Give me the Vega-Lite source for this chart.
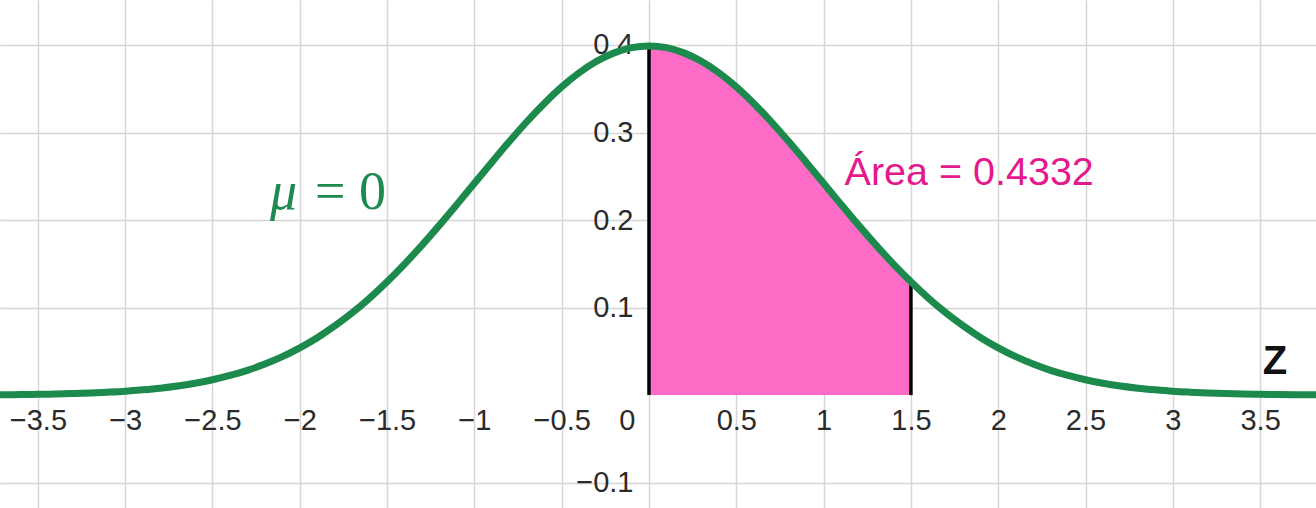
{
  "$schema": "https://vega.github.io/schema/vega-lite/v6.json",
  "width": 1316,
  "height": 508,
  "padding": 0,
  "autosize": {"type": "fit", "contains": "padding"},
  "background": "white",
  "view": {"stroke": null},
  "datasets": {
    "curve": [
      {"z": -3.9, "p": 0.0002}, {"z": -3.8, "p": 0.0003}, {"z": -3.7, "p": 0.0004}, {"z": -3.6, "p": 0.0006},
      {"z": -3.5, "p": 0.0009}, {"z": -3.4, "p": 0.0012}, {"z": -3.3, "p": 0.0017}, {"z": -3.2, "p": 0.0024},
      {"z": -3.1, "p": 0.0033}, {"z": -3.0, "p": 0.0044}, {"z": -2.9, "p": 0.0060}, {"z": -2.8, "p": 0.0079},
      {"z": -2.7, "p": 0.0104}, {"z": -2.6, "p": 0.0136}, {"z": -2.5, "p": 0.0175}, {"z": -2.4, "p": 0.0224},
      {"z": -2.3, "p": 0.0283}, {"z": -2.2, "p": 0.0355}, {"z": -2.1, "p": 0.0440}, {"z": -2.0, "p": 0.0540},
      {"z": -1.9, "p": 0.0656}, {"z": -1.8, "p": 0.0790}, {"z": -1.7, "p": 0.0940}, {"z": -1.6, "p": 0.1109},
      {"z": -1.5, "p": 0.1295}, {"z": -1.4, "p": 0.1497}, {"z": -1.3, "p": 0.1714}, {"z": -1.2, "p": 0.1942},
      {"z": -1.1, "p": 0.2179}, {"z": -1.0, "p": 0.2420}, {"z": -0.9, "p": 0.2661}, {"z": -0.8, "p": 0.2897},
      {"z": -0.7, "p": 0.3123}, {"z": -0.6, "p": 0.3332}, {"z": -0.5, "p": 0.3521}, {"z": -0.4, "p": 0.3683},
      {"z": -0.3, "p": 0.3814}, {"z": -0.2, "p": 0.3910}, {"z": -0.1, "p": 0.3970}, {"z": 0.0, "p": 0.3989},
      {"z": 0.1, "p": 0.3970}, {"z": 0.2, "p": 0.3910}, {"z": 0.3, "p": 0.3814}, {"z": 0.4, "p": 0.3683},
      {"z": 0.5, "p": 0.3521}, {"z": 0.6, "p": 0.3332}, {"z": 0.7, "p": 0.3123}, {"z": 0.8, "p": 0.2897},
      {"z": 0.9, "p": 0.2661}, {"z": 1.0, "p": 0.2420}, {"z": 1.1, "p": 0.2179}, {"z": 1.2, "p": 0.1942},
      {"z": 1.3, "p": 0.1714}, {"z": 1.4, "p": 0.1497}, {"z": 1.5, "p": 0.1295}, {"z": 1.6, "p": 0.1109},
      {"z": 1.7, "p": 0.0940}, {"z": 1.8, "p": 0.0790}, {"z": 1.9, "p": 0.0656}, {"z": 2.0, "p": 0.0540},
      {"z": 2.1, "p": 0.0440}, {"z": 2.2, "p": 0.0355}, {"z": 2.3, "p": 0.0283}, {"z": 2.4, "p": 0.0224},
      {"z": 2.5, "p": 0.0175}, {"z": 2.6, "p": 0.0136}, {"z": 2.7, "p": 0.0104}, {"z": 2.8, "p": 0.0079},
      {"z": 2.9, "p": 0.0060}, {"z": 3.0, "p": 0.0044}, {"z": 3.1, "p": 0.0033}, {"z": 3.2, "p": 0.0024},
      {"z": 3.3, "p": 0.0017}, {"z": 3.4, "p": 0.0012}, {"z": 3.5, "p": 0.0009}, {"z": 3.6, "p": 0.0006},
      {"z": 3.7, "p": 0.0004}, {"z": 3.8, "p": 0.0003}, {"z": 3.9, "p": 0.0002}
    ],
    "bounds": [{"z": 0, "p": 0.3989}, {"z": 1.5, "p": 0.1295}],
    "labels": [
      {"z": 1.12, "p": 0.254, "text": "Área = 0.4332", "kind": "area"},
      {"z": 3.585, "p": 0.0377, "text": "Z", "kind": "axis"}
    ],
    "mu": [{"z": -2.17, "p": 0.2306, "sym": "μ", "rest": "= 0"}]
  },
  "encoding": {
    "x": {
      "field": "z", "type": "quantitative",
      "scale": {"domain": [-3.717, 3.82], "nice": false, "zero": false},
      "axis": {
        "title": null,
        "orient": "bottom",
        "offset": -112.9,
        "values": [-3.5, -3, -2.5, -2, -1.5, -1, -0.5, 0, 0.5, 1, 1.5, 2, 2.5, 3, 3.5],
        "format": "~g",
        "grid": true, "gridColor": "#d6d6d6", "gridWidth": 1.5,
        "domain": false, "ticks": false, "tickSize": 0,
        "labelFont": "Liberation Sans", "labelFontSize": 29, "labelColor": "#2b2b2b",
        "labelPadding": 11, "labelFlush": false, "labelOverlap": false,
        "labelAlign": {"condition": {"test": "datum.value === 0", "value": "right"}, "value": "center"},
        "labelOffset": {"condition": {"test": "datum.value === 0", "value": -14}, "value": 0}
      }
    },
    "y": {
      "field": "p", "type": "quantitative",
      "scale": {"domain": [-0.129, 0.4514], "nice": false, "zero": false},
      "axis": {
        "title": null,
        "orient": "left",
        "offset": -649,
        "values": [-0.1, 0.1, 0.2, 0.3, 0.4],
        "format": "~g",
        "grid": true, "gridColor": "#d6d6d6", "gridWidth": 1.5,
        "domain": false, "ticks": false, "tickSize": 0,
        "labelFont": "Liberation Sans", "labelFontSize": 29, "labelColor": "#2b2b2b",
        "labelPadding": 16, "labelFlush": false, "labelOverlap": false
      }
    }
  },
  "layer": [
    {
      "data": {"values": [{"v": 0}]},
      "mark": {"type": "rule", "color": "#6e6e6e", "strokeWidth": 2},
      "encoding": {"x": null, "y": {"datum": 0, "type": "quantitative"}}
    },
    {
      "data": {"values": [{"v": 0}]},
      "mark": {"type": "rule", "color": "#6e6e6e", "strokeWidth": 2},
      "encoding": {"y": null, "x": {"datum": 0, "type": "quantitative"}}
    },
    {
      "data": {"name": "curve"},
      "transform": [{"filter": "datum.z >= 0 && datum.z <= 1.5"}],
      "mark": {"type": "area", "color": "#ff5fc3", "opacity": 0.92, "interpolate": "monotone"},
      "encoding": {"y2": {"datum": 0}}
    },
    {
      "data": {"name": "bounds"},
      "mark": {"type": "rule", "color": "#000000", "strokeWidth": 3.5},
      "encoding": {"y2": {"datum": 0}}
    },
    {
      "data": {"name": "curve"},
      "mark": {"type": "line", "color": "#1b8a4c", "strokeWidth": 7, "interpolate": "monotone", "clip": true}
    },
    {
      "data": {"name": "labels"},
      "transform": [{"filter": "datum.kind === 'area'"}],
      "mark": {"type": "text", "align": "left", "baseline": "middle", "font": "Liberation Sans", "fontSize": 39.5, "color": "#e3198d"},
      "encoding": {"text": {"field": "text"}}
    },
    {
      "data": {"name": "labels"},
      "transform": [{"filter": "datum.kind === 'axis'"}],
      "mark": {"type": "text", "align": "center", "baseline": "middle", "font": "Liberation Sans", "fontWeight": "bold", "fontSize": 40, "color": "#111111"},
      "encoding": {"text": {"field": "text"}}
    },
    {
      "data": {"name": "mu"},
      "mark": {"type": "text", "align": "left", "baseline": "middle", "font": "Liberation Serif", "fontStyle": "italic", "fontSize": 54, "color": "#1f8a50"},
      "encoding": {"text": {"field": "sym"}}
    },
    {
      "data": {"name": "mu"},
      "mark": {"type": "text", "align": "left", "baseline": "middle", "font": "Liberation Serif", "fontSize": 54, "color": "#1f8a50", "dx": 45},
      "encoding": {"text": {"field": "rest"}}
    }
  ]
}
